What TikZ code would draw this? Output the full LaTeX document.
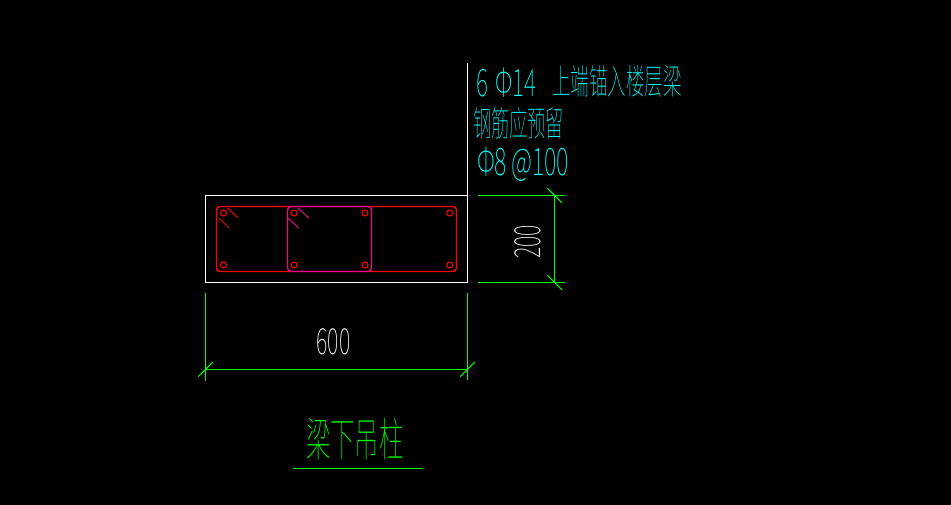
\documentclass[tikz,border=0pt]{standalone}
\usepackage{fontspec}
\setmainfont{Liberation Sans}
\newfontfamily\cjk[UprightFont={* Thin}]{Noto Sans CJK SC}
\usetikzlibrary{positioning}
\definecolor{cadgreen}{RGB}{0,255,0}
\definecolor{cadcyan}{RGB}{0,255,255}
\tikzstyle{bar}=[circle,draw=red,minimum size=6pt,inner sep=0pt,line width=1.1pt]
\tikzstyle{dim}=[cadgreen,line width=1.3pt]
\tikzstyle{outline}=[white,line width=1.3pt]
\tikzstyle{hoop}=[line width=1.4pt,rounded corners=3.5pt]
\tikzstyle{tall}=[transform shape,inner sep=0pt,anchor=west]

\begin{document}
\begin{tikzpicture}[x=1pt,y=-1pt]
\fill[black] (0,0) rectangle (951,505);
\useasboundingbox (0,0) rectangle (951,505);

%column outline
    \draw[outline] (205.5,195.5) rectangle (467.5,282.5);
    \draw[outline] (467.5,63) -- (467.5,195.5);

%hoops
    \draw[hoop,red] (216.5,206.5) rectangle (456.5,271.5);
    \draw[hoop,magenta] (287.5,206.5) rectangle (371.5,271.5);
    \foreach \x/\y/\xx/\yy in {227.3/207.7/237.7/217.7, 219/218/228.7/227.7}
        \draw[red,line width=1pt] (\x,\y) -- (\xx,\yy);
    \foreach \x/\y/\xx/\yy in {297.7/207.7/308.7/218, 287.7/218/298.7/228}
        \draw[magenta,line width=1pt] (\x,\y) -- (\xx,\yy);

%bars
    \foreach \pos/\name in {{(223.5,213)/a1}, {(294,213)/a2}, {(365,213)/a3}, {(449.7,213)/a4},
                            {(223.5,265)/b1}, {(294,265)/b2}, {(365,265)/b3}, {(449.7,265)/b4}}
        \node[bar] (\name) at \pos {};

%dimension 200
    \coordinate (h1) at (478,195.5);
    \coordinate (h2) at (565,195.5);
    \coordinate (h3) at (478,282.5);
    \coordinate (h4) at (565,282.5);
    \coordinate (v1) at (554.7,195.5);
    \coordinate (v2) at (554.7,282.5);
    \foreach \source/\dest in {h1/h2, h3/h4, v1/v2}
        \draw[dim] (\source) -- (\dest);
    \foreach \c in {v1,v2}
        \draw[dim,line width=1pt] (\c) ++(-7.3,-7.3) -- ++(14.6,14.6);
    \node[white,tall,anchor=center,rotate=90,xscale=0.6,font=\fontsize{36}{36}\selectfont\cjk] (dimh) at (527.5,242) {200};

%dimension 600
    \coordinate (e1) at (205.5,293);
    \coordinate (e2) at (205.5,380.7);
    \coordinate (e3) at (467.5,293);
    \coordinate (e4) at (467.5,379.5);
    \coordinate (w1) at (205.5,369.3);
    \coordinate (w2) at (467.5,369.3);
    \foreach \source/\dest in {e1/e2, e3/e4, w1/w2}
        \draw[dim] (\source) -- (\dest);
    \foreach \c in {w1,w2}
        \draw[dim,line width=1pt] (\c) ++(-7.3,7.3) -- ++(14.6,-14.6);
    \node[white,tall,anchor=center,xscale=0.6,font=\fontsize{36}{36}\selectfont\cjk] (dimw) at (333.5,342) {600};

%notes
    \node[cadcyan,tall,xscale=0.6,font=\fontsize{38}{38}\selectfont\cjk] (note1) at (476,83) {6\,\,Φ14};
    \node[cadcyan,tall,xscale=0.53,font=\fontsize{35}{35}\selectfont\cjk] (note2) at (552,81) {上端锚入楼层梁};
    \node[cadcyan,tall,xscale=0.52,font=\fontsize{35}{35}\selectfont\cjk] (note3) at (473,123) {钢筋应预留};
    \node[cadcyan,tall,xscale=0.62,font=\fontsize{38}{38}\selectfont\cjk] (note4) at (477,164) {Φ8\,@100};

%title
    \node[cadgreen,tall,xscale=0.53,font=\fontsize{46}{46}\selectfont\cjk] (title) at (306,439) {梁下吊柱};
    \coordinate (u1) at (293,468.3);
    \coordinate (u2) at (422.7,468.3);
    \draw[dim] (u1) -- (u2);

\end{tikzpicture}
\end{document}
